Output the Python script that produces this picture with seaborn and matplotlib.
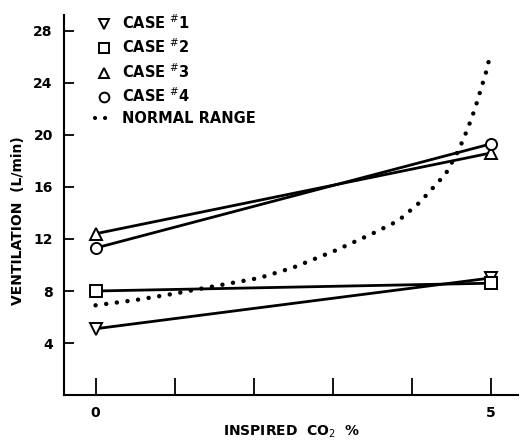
import matplotlib
matplotlib.use("Agg")
import matplotlib.pyplot as plt
import seaborn as sns
import pandas as pd
from matplotlib.lines import Line2D

sns.set_style("ticks")
plt.rcParams['font.family'] = ['DejaVu Sans']
plt.rcParams['text.color'] = 'black'
plt.rcParams['axes.labelcolor'] = 'black'
plt.rcParams['xtick.color'] = 'black'
plt.rcParams['ytick.color'] = 'black'
plt.rcParams['axes.edgecolor'] = 'black'

co2 = [0, 5]
case1 = [5.1, 9.0]
case2 = [8.0, 8.6]
case3 = [12.4, 18.6]
case4 = [11.3, 19.3]
case_labels = ["CASE $^{\\#}$1", "CASE $^{\\#}$2", "CASE $^{\\#}$3", "CASE $^{\\#}$4"]
case_markers = ["v", "s", "^", "o"]

normal_x = [0.0, 0.5, 1.0, 1.35, 2.07, 2.5, 3.03, 3.5, 3.83, 4.1, 4.43, 4.6, 4.71, 4.8, 4.87, 4.94, 5.0]
normal_y = [6.9, 7.3, 7.8, 8.2, 9.0, 9.8, 11.1, 12.4, 13.4, 14.8, 17.0, 18.9, 20.5, 22.0, 23.4, 24.8, 26.3]

yticks = [4, 8, 12, 16, 20, 24, 28]
xticks = [0, 1, 2, 3, 4, 5]
xticklabels = ["0", "", "", "", "", "5"]

fig = plt.figure(figsize=(5.2, 4.42), dpi=100)
ax = fig.add_axes([0.123, 0.106, 0.874, 0.86])

cases = [case1, case2, case3, case4]
for vals, mk in zip(cases, case_markers):
    df = pd.DataFrame({"co2": co2, "vent": vals})
    sns.lineplot(data=df, x="co2", y="vent", ax=ax, color="black", linewidth=2,
                 marker=mk, markersize=8, markerfacecolor="white",
                 markeredgecolor="black", markeredgewidth=1.4, zorder=3)

ndf = pd.DataFrame({"co2": normal_x, "vent": normal_y})
sns.lineplot(data=ndf, x="co2", y="vent", ax=ax, color="black", linewidth=3.2,
             linestyle=(0, (0.01, 2.4)), zorder=2)
ax.lines[-1].set_dash_capstyle("round")

ax.set_xlim(-0.4, 5.35)
ax.set_ylim(0, 29.2)
ax.set_xticks(xticks)
ax.set_xticklabels(xticklabels)
ax.set_yticks(yticks)
ax.tick_params(axis="y", direction="in", length=7, width=1.3, labelsize=10, pad=8)
ax.tick_params(axis="x", direction="in", length=12, width=1.3, labelsize=10, pad=8)
for t in ax.get_xticklabels() + ax.get_yticklabels():
    t.set_fontweight("bold")
sns.despine(ax=ax)
ax.spines["left"].set_linewidth(1.5)
ax.spines["bottom"].set_linewidth(1.5)
ax.set_xlabel("")
ax.set_ylabel("")

fig.text(0.56, 0.022, "INSPIRED  CO$_2$  %", fontsize=10, fontweight="bold",
         ha="center", va="center")
fig.text(0.035, 0.5, "VENTILATION  (L/min)", fontsize=10, fontweight="bold",
         ha="center", va="center", rotation=90)

handles = [Line2D([], [], color="black", marker=m, linestyle="none", markersize=7,
                  markerfacecolor="white", markeredgewidth=1.4) for m in case_markers]
nh = Line2D([], [], color="black", linestyle=(0, (0.01, 2.4)), linewidth=3)
nh.set_dash_capstyle("round")
handles.append(nh)
leg = ax.legend(handles, case_labels + ["NORMAL RANGE"], loc="upper left",
                bbox_to_anchor=(0.04, 1.04), frameon=False, handlelength=1.2,
                handletextpad=0.6, labelspacing=0.4, fontsize=10.5)
for t in leg.get_texts():
    t.set_fontweight("bold")

fig.savefig("out.png", dpi=100)
